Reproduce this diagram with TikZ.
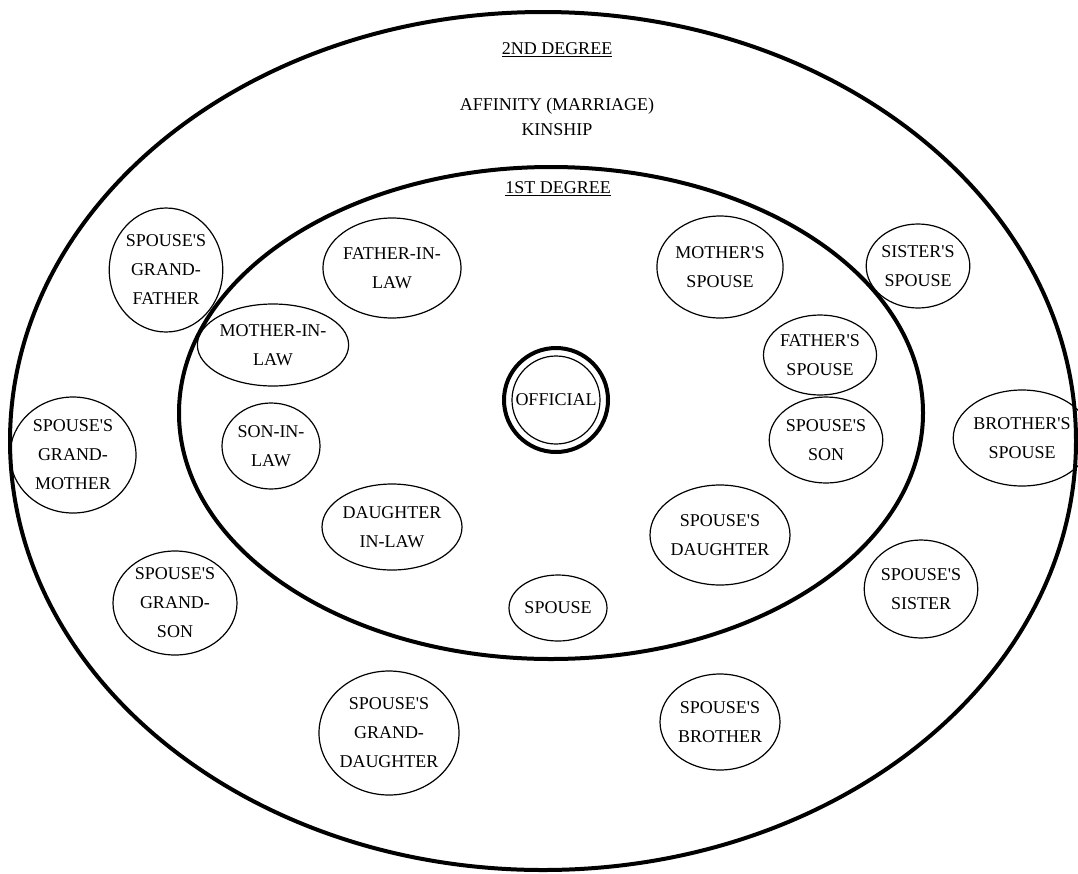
\documentclass[tikz,border=0pt]{standalone}
\usepackage{fontspec}
\setmainfont{Liberation Serif}
\usetikzlibrary{shapes.geometric}
\newcommand\apos{\textquotesingle}
\tikzset{
  ring/.style={line width=4pt},
  kin/.style={ellipse, draw, line width=1.2pt, align=center, inner sep=0pt,
    font=\fontsize{18}{29}\selectfont},
  heading/.style={align=center, font=\fontsize{18}{25}\selectfont}
}
\begin{document}
\begin{tikzpicture}[x=1pt,y=-1pt]
  \useasboundingbox (0,0) rectangle (1078,873);

  % the two degrees
  \draw[ring] (543,441) ellipse (533 and 429);
  \draw[ring] (551,413) ellipse (372 and 246);

  \node[heading] (second) at (557,50) {\underline{2ND DEGREE}};
  \node[heading] (affinity) at (557,117) {AFFINITY (MARRIAGE)\\KINSHIP};
  \node[heading] (first) at (558,189) {\underline{1ST DEGREE}};

  % centre
  \node[circle, draw, line width=1.2pt, minimum size=88pt, inner sep=0pt,
    font=\fontsize{18}{29}\selectfont] (official) at (556,400) {OFFICIAL};
  \draw[line width=4pt] (official.center) circle (52);

  % 1st degree
  \node[kin, minimum width=130pt, minimum height=100pt] (fatherinlaw) at (392,268) {FATHER-IN-\\LAW};
  \node[kin, minimum width=126pt, minimum height=82pt] (motherinlaw) at (273,345) {MOTHER-IN-\\LAW};
  \node[kin, minimum width=98pt, minimum height=86pt] (soninlaw) at (271,446) {SON-IN-\\LAW};
  \node[kin, minimum width=124pt, minimum height=86pt] (daughterinlaw) at (392,527) {DAUGHTER\\IN-LAW};
  \node[kin, minimum width=98pt, minimum height=66pt] (spouse) at (558,608) {SPOUSE};
  \node[kin, minimum width=120pt, minimum height=100pt] (spousedaughter) at (720,535) {SPOUSE\apos S\\DAUGHTER};
  \node[kin, minimum width=98pt, minimum height=86pt] (spouseson) at (826,440) {SPOUSE\apos S\\SON};
  \node[kin, minimum width=120pt, minimum height=102pt] (motherspouse) at (720,267) {MOTHER\apos S\\SPOUSE};
  \node[kin, minimum width=110pt, minimum height=80pt] (fatherspouse) at (820,355) {FATHER\apos S\\SPOUSE};

  % 2nd degree
  \node[kin, minimum width=112pt, minimum height=124pt] (grandfather) at (166,270) {SPOUSE\apos S\\GRAND-\\FATHER};
  \node[kin, minimum width=126pt, minimum height=116pt] (grandmother) at (73,455) {SPOUSE\apos S\\GRAND-\\MOTHER};
  \node[kin, minimum width=124pt, minimum height=104pt] (grandson) at (175,603) {SPOUSE\apos S\\GRAND-\\SON};
  \node[kin, minimum width=128pt, minimum height=124pt] (granddaughter) at (389,733) {SPOUSE\apos S\\GRAND-\\DAUGHTER};
  \node[kin, minimum width=120pt, minimum height=96pt] (spousebrother) at (720,722) {SPOUSE\apos S\\BROTHER};
  \node[kin, minimum width=106pt, minimum height=98pt] (spousesister) at (921,589) {SPOUSE\apos S\\SISTER};
  \node[kin, minimum width=110pt, minimum height=96pt] (brotherspouse) at (1022,438) {BROTHER\apos S\\SPOUSE};
  \node[kin, minimum width=96pt, minimum height=84pt] (sisterspouse) at (918,266) {SISTER\apos S\\SPOUSE};
\end{tikzpicture}
\end{document}
